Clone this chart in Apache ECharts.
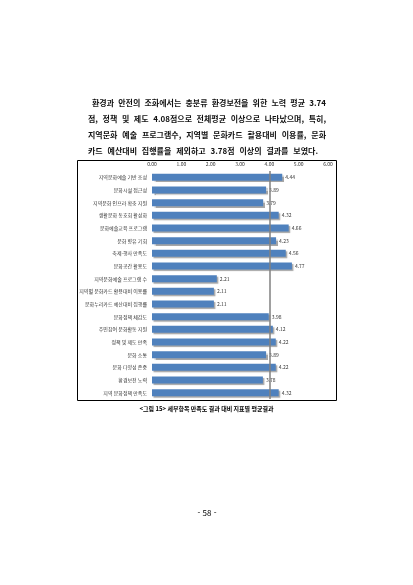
<!DOCTYPE html>
<html lang="ko">
<head>
    <meta charset="UTF-8"/>
    <script src="https://cdn.jsdelivr.net/npm/echarts@6/dist/echarts.min.js"></script>
    <title>만족도 결과</title>
    <style>
        html, body { margin: 0; padding: 0; background: #fff; }
    </style>
</head>
<body>
<div id="main" style="width: 413px;height:585px;"></div>
<script type="text/javascript">
    // 항목명 (위에서 아래 순서)
    var categories = [
        '지역문화예술 기반 조성',
        '문화시설 접근성',
        '지역문화 인프라 확충 지원',
        '생활문화 동호회 활성화',
        '문화예술교육 프로그램',
        '문화 향유 기회',
        '축제·행사 만족도',
        '문화공간 활용도',
        '지역문화예술 프로그램 수',
        '지역별 문화카드 활용대비 이용률',
        '문화누리카드 예산대비 집행률',
        '문화정책 체감도',
        '주민참여 문화활동 지원',
        '정책 및 제도 만족',
        '문화 소통',
        '문화 다양성 존중',
        '환경보전 노력',
        '지역 문화정책 만족도'
    ];
    // 항목별 평균 점수
    var scores = [4.44, 3.89, 3.79, 4.32, 4.66, 4.23, 4.56, 4.77, 2.21, 2.11, 2.11,
        3.98, 4.12, 4.22, 3.89, 4.22, 3.78, 4.32];
    // 전체 평균선
    var avgLine = 4.00;
    var axisMin = 0, axisMax = 6, axisStep = 1;

    var paragraph = [
        '환경과 안전의 조화에서는 충분류 환경보전을 위한 노력 평균 3.74',
        '점, 정책 및 제도 4.08점으로 전체평균 이상으로 나타났으며, 특히,',
        '지역문화 예술 프로그램수, 지역별 문화카드 활용대비 이용률, 문화',
        '카드 예산대비 집행률을 제외하고 3.78점 이상의 결과를 보였다.'
    ];
    var caption = '<그림 15> 세부항목 만족도 결과 대비 지표별 평균결과';
    var pageNo = '- 58 -';

    var font = '"Noto Sans CJK KR", "Noto Sans", sans-serif';
    var textFont = 'bold 8px ' + font;
    var myChart = echarts.init(document.getElementById('main'));

    // 양쪽 정렬을 위한 글자폭 측정
    var ctx = document.createElement('canvas').getContext('2d');
    ctx.font = textFont;

    var graphics = [];
    // 본문 (단어 간격을 늘려 양쪽 정렬)
    var lineStart = [92, 88, 88, 88];
    var lineEnd = [326, 326, 326, 318];
    for (var i = 0; i < paragraph.length; i++) {
        var words = paragraph[i].split(' ');
        var total = 0;
        for (var w = 0; w < words.length; w++) total += ctx.measureText(words[w]).width;
        var gap = (lineEnd[i] - lineStart[i] - total) / (words.length - 1);
        var x = lineStart[i];
        for (w = 0; w < words.length; w++) {
            graphics.push({
                type: 'text',
                x: x,
                y: 99 + i * 16,
                style: {text: words[w], font: textFont, fill: '#111'}
            });
            x += ctx.measureText(words[w]).width + gap;
        }
    }
    // 차트 테두리
    graphics.push({
        type: 'rect',
        shape: {x: 77.5, y: 160.5, width: 259, height: 240},
        style: {fill: 'none', stroke: '#000', lineWidth: 1},
        z: -1
    });
    graphics.push({
        type: 'text',
        left: 'center',
        top: 406,
        style: {text: caption, font: 'bold 6px ' + font, fill: '#000'}
    });
    graphics.push({
        type: 'text',
        left: 'center',
        top: 509,
        style: {text: pageNo, font: '8px ' + font, fill: '#000'}
    });

    var option = {
        animation: false,
        backgroundColor: '#fff',
        textStyle: {fontFamily: font},
        graphic: graphics,
        grid: {left: 152, right: 85, top: 171, bottom: 186},
        xAxis: {
            type: 'value',
            position: 'top',
            min: axisMin,
            max: axisMax,
            interval: axisStep,
            axisLine: {show: false},
            axisTick: {show: false},
            splitLine: {show: false},
            axisLabel: {
                fontSize: 5,
                color: '#333',
                margin: 4,
                formatter: function (v) { return v.toFixed(2); }
            }
        },
        yAxis: {
            type: 'category',
            inverse: true,
            data: categories,
            axisLine: {show: false},
            axisTick: {show: false},
            axisLabel: {fontSize: 5, color: '#333', margin: 5}
        },
        series: [{
            type: 'bar',
            data: scores,
            barWidth: 7,
            itemStyle: {
                color: '#4f81bd',
                shadowColor: 'rgba(0,0,0,0.35)',
                shadowOffsetX: 1.5,
                shadowOffsetY: 1.5,
                shadowBlur: 1
            },
            label: {
                show: true,
                position: 'right',
                distance: 3,
                fontSize: 5,
                color: '#333',
                formatter: function (p) { return p.value.toFixed(2); }
            },
            markLine: {
                silent: true,
                symbol: 'none',
                label: {show: false},
                lineStyle: {color: '#808080', width: 1.5, type: 'solid'},
                data: [{xAxis: avgLine}]
            }
        }]
    };

    myChart.setOption(option);
</script>
</body>
</html>
